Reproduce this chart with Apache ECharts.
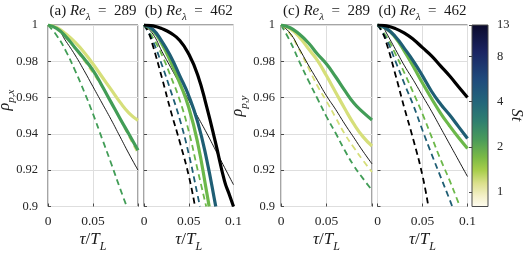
<!DOCTYPE html>
<html><head><meta charset="utf-8">
<script src="https://cdn.jsdelivr.net/npm/echarts@6/dist/echarts.min.js"></script>
<style>html,body{margin:0;padding:0;background:#fff}#c{width:532px;height:256px}</style>
</head><body><div id="c"></div>
<script>
// ---------- data ----------
const xTickVals = [0, 0.05, 0.1];
const xTickText = ['0', '0.05', '0.1'];
const yTickVals = [0.9, 0.92, 0.94, 0.96, 0.98, 1];
const yTickText = ['0.9', '0.92', '0.94', '0.96', '0.98', '1'];
const cbTickVals = [1, 2, 4, 8, 13];
const cbMin = 0.8, cbMax = 13;
const panelTitles = [['(a) ', '289'], ['(b) ', '462'], ['(c) ', '289'], ['(d) ', '462']];

// (a) Re=289, rho_p,x
const A_fluid = [[0,1],[0.01,0.9982],[0.02,0.991],[0.03,0.9835],[0.04,0.975],[0.05,0.966],[0.06,0.957],[0.07,0.948],[0.08,0.9385],[0.09,0.929],[0.1,0.92]];
const A_yellowDash = [[0,1],[0.01,0.9975],[0.02,0.993],[0.03,0.987],[0.04,0.9805],[0.05,0.9735],[0.06,0.966],[0.07,0.9575],[0.08,0.948],[0.09,0.9385],[0.1,0.929]];
const A_greenDash = [[0,1],[0.01,0.994],[0.02,0.9855],[0.03,0.975],[0.04,0.9635],[0.05,0.951],[0.06,0.9375],[0.07,0.924],[0.08,0.91],[0.0875,0.9]];
const A_yellow = [[0,1],[0.01,0.9985],[0.02,0.995],[0.03,0.9905],[0.04,0.985],[0.05,0.9785],[0.06,0.9715],[0.07,0.9645],[0.08,0.9575],[0.09,0.9515],[0.1,0.9475]];
const A_green = [[0,1],[0.01,0.998],[0.02,0.9935],[0.03,0.9875],[0.04,0.9815],[0.05,0.975],[0.06,0.9665],[0.07,0.9575],[0.08,0.9485],[0.09,0.9398],[0.1,0.931]];

// (b) Re=462, rho_p,x
const B_fluid = [[0,1],[0.01,0.995],[0.02,0.9855],[0.03,0.9765],[0.04,0.9675],[0.05,0.9585],[0.06,0.9495],[0.07,0.9405],[0.08,0.931],[0.09,0.9215],[0.1,0.912]];
const B_blackDash = [[0,1],[0.005,0.996],[0.01,0.9885],[0.02,0.971],[0.03,0.9525],[0.04,0.9355],[0.05,0.917],[0.057,0.9]];
const B_tealDash = [[0,1],[0.01,0.991],[0.02,0.978],[0.03,0.9635],[0.04,0.948],[0.05,0.929],[0.06,0.906],[0.0625,0.9]];
const B_limeDash = [[0,1],[0.01,0.993],[0.02,0.9835],[0.03,0.9715],[0.04,0.9585],[0.05,0.9415],[0.06,0.92],[0.0695,0.9]];
const B_lime = [[0,1],[0.01,0.997],[0.02,0.9895],[0.03,0.9795],[0.04,0.968],[0.05,0.9545],[0.06,0.935],[0.07,0.908],[0.0728,0.9]];
const B_teal = [[0,1],[0.01,0.9975],[0.02,0.991],[0.03,0.9825],[0.04,0.972],[0.05,0.961],[0.06,0.9465],[0.07,0.926],[0.08,0.9005],[0.0802,0.9]];
const B_black = [[0,1],[0.01,0.9995],[0.02,0.998],[0.03,0.9955],[0.04,0.9915],[0.05,0.984],[0.06,0.9725],[0.07,0.955],[0.08,0.935],[0.09,0.914],[0.095,0.907],[0.1,0.9]];

// (c) Re=289, rho_p,y
const C_fluid = [[0,1],[0.01,0.9955],[0.02,0.987],[0.03,0.978],[0.04,0.9695],[0.05,0.961],[0.06,0.9535],[0.07,0.9455],[0.08,0.938],[0.09,0.9305],[0.1,0.9235]];
const C_yellowDash = [[0,1],[0.01,0.995],[0.02,0.9865],[0.03,0.9765],[0.04,0.9665],[0.05,0.958],[0.06,0.949],[0.07,0.94],[0.08,0.9325],[0.09,0.9255],[0.1,0.919]];
const C_greenDash = [[0,1],[0.01,0.991],[0.02,0.98],[0.03,0.9695],[0.04,0.9595],[0.05,0.9495],[0.06,0.9405],[0.07,0.931],[0.08,0.9225],[0.09,0.9155],[0.1,0.909]];
const C_yellow = [[0,1],[0.01,0.998],[0.02,0.9935],[0.03,0.987],[0.04,0.9805],[0.05,0.972],[0.06,0.963],[0.07,0.954],[0.08,0.9455],[0.09,0.9385],[0.1,0.9333]];
const C_green = [[0,1],[0.01,0.9985],[0.02,0.995],[0.03,0.9902],[0.04,0.984],[0.05,0.9785],[0.06,0.9715],[0.07,0.964],[0.08,0.957],[0.09,0.952],[0.1,0.9477]];

// (d) Re=462, rho_p,y
const D_fluid = [[0,1],[0.005,0.9995],[0.01,0.9955],[0.02,0.9865],[0.03,0.9775],[0.04,0.9695],[0.05,0.961],[0.06,0.9525],[0.07,0.9435],[0.08,0.9345],[0.09,0.9255],[0.1,0.9165]];
const D_blackDash = [[0,1],[0.005,0.9965],[0.01,0.99],[0.02,0.9725],[0.03,0.954],[0.04,0.9365],[0.05,0.917],[0.0565,0.9]];
const D_tealDash = [[0,1],[0.01,0.992],[0.02,0.98],[0.03,0.9675],[0.04,0.9555],[0.05,0.942],[0.06,0.929],[0.07,0.9165],[0.08,0.904],[0.083,0.9]];
const D_limeDash = [[0,1],[0.01,0.9935],[0.02,0.984],[0.03,0.9735],[0.04,0.9625],[0.05,0.951],[0.06,0.9385],[0.07,0.926],[0.08,0.9145],[0.09,0.902],[0.0916,0.9]];
const D_lime = [[0,1],[0.01,0.998],[0.02,0.993],[0.03,0.9855],[0.04,0.977],[0.05,0.968],[0.06,0.9595],[0.07,0.9515],[0.08,0.9445],[0.09,0.938],[0.1,0.932]];
const D_teal = [[0,1],[0.01,0.998],[0.02,0.9935],[0.03,0.987],[0.04,0.98],[0.05,0.972],[0.06,0.9635],[0.07,0.9565],[0.08,0.9505],[0.09,0.944],[0.1,0.9375]];
const D_black = [[0,1],[0.01,0.9995],[0.02,0.998],[0.03,0.9955],[0.04,0.992],[0.05,0.9875],[0.06,0.983],[0.07,0.9775],[0.08,0.972],[0.09,0.966],[0.1,0.96]];

// ---------- styles ----------
const COL = {yellow:'#d6df7a', green:'#429d57', lime:'#6cb84a', teal:'#1f5e74', black:'#000000'};
const FONT = "'Liberation Serif','DejaVu Serif',serif";
const AX = '#4a4a4a';
const GRIDC = '#dedede';
const grids = [
  {left:48, top:25, width:90, height:181.5},
  {left:144, top:25, width:89.5, height:181.5},
  {left:281, top:25, width:91, height:181.5},
  {left:377.5, top:25, width:90, height:181.5}
];
const cbGrid = {left:472, top:25, width:16, height:181.5};

function fmtX(v){ for (let i=0;i<xTickVals.length;i++) if (Math.abs(v-xTickVals[i])<1e-9) return xTickText[i]; return ''; }
function fmtY(v){ for (let i=0;i<yTickVals.length;i++) if (Math.abs(v-yTickVals[i])<1e-9) return yTickText[i]; return ''; }

const panels = [
  {dashed:[[A_yellowDash,'yellow'],[A_greenDash,'green']], fluid:A_fluid, solid:[[A_yellow,'yellow'],[A_green,'green']], ylab:true, x01:false, labM:10},
  {dashed:[[B_limeDash,'lime'],[B_tealDash,'teal'],[B_blackDash,'black']], fluid:B_fluid, solid:[[B_lime,'lime'],[B_teal,'teal'],[B_black,'black']], ylab:false, x01:true},
  {dashed:[[C_yellowDash,'yellow'],[C_greenDash,'green']], fluid:C_fluid, solid:[[C_yellow,'yellow'],[C_green,'green']], ylab:true, x01:false, labM:6},
  {dashed:[[D_limeDash,'lime'],[D_tealDash,'teal'],[D_blackDash,'black']], fluid:D_fluid, solid:[[D_lime,'lime'],[D_teal,'teal'],[D_black,'black']], ylab:false, x01:true}
];

const gridOpt = [], xAxes = [], yAxes = [], series = [];
panels.forEach((p, i) => {
  gridOpt.push(Object.assign({show:true, borderColor:AX, borderWidth:1, backgroundColor:'#fff'}, grids[i]));
  xAxes.push({type:'value', gridIndex:i, min:0, max:0.1, interval:0.05,
    axisLine:{show:false}, axisTick:{show:true, inside:true, length:3, lineStyle:{color:AX}},
    splitLine:{show:true, lineStyle:{color:GRIDC, width:1}},
    axisLabel:{show:true, margin:8, fontFamily:FONT, fontSize:13.5, color:'#262626',
      formatter: v => (!p.x01 && Math.abs(v-0.1)<1e-9) ? '' : fmtX(v)}});
  yAxes.push({type:'value', gridIndex:i, min:0.9, max:1, interval:0.02,
    axisLine:{show:false}, axisTick:{show:true, inside:true, length:3, lineStyle:{color:AX}},
    splitLine:{show:true, lineStyle:{color:GRIDC, width:1}},
    axisLabel:{show:p.ylab, margin:p.labM||8, fontFamily:FONT, fontSize:12.5, color:'#262626', formatter: fmtY}});
  const base = {type:'line', xAxisIndex:i, yAxisIndex:i, showSymbol:false, symbol:'none', smooth:0.5, clip:true, silent:true, animation:false};
  p.dashed.forEach(([d,c]) => series.push(Object.assign({}, base, {data:d, lineStyle:{color:COL[c], width:1.8, type:[6,4]}})));
  series.push(Object.assign({}, base, {data:p.fluid, lineStyle:{color:'#000', width:0.9}}));
  p.solid.forEach(([d,c]) => series.push(Object.assign({}, base, {data:d, lineStyle:{color:COL[c], width:3.2}})));
});

// colorbar
const cbGrad = new echarts.graphic.LinearGradient(0,0,0,1,[
  {offset:0, color:'#0b0a2c'},{offset:0.15, color:'#1a2462'},{offset:0.3, color:'#1f4a7c'},
  {offset:0.43, color:'#23677a'},{offset:0.53, color:'#2f7f6f'},{offset:0.63, color:'#4a9b5a'},
  {offset:0.73, color:'#7cba45'},{offset:0.8, color:'#a8ce4c'},{offset:0.87, color:'#dbe08c'},
  {offset:0.94, color:'#f4f0c8'},{offset:1, color:'#fffdf2'}]);
gridOpt.push(Object.assign({show:true, borderColor:AX, borderWidth:1, backgroundColor:cbGrad}, cbGrid));
xAxes.push({type:'value', gridIndex:4, min:0, max:1, show:false});
yAxes.push({type:'value', gridIndex:4, position:'right', min:Math.log2(cbMin), max:Math.log2(cbMax),
  axisLine:{show:false}, splitLine:{show:false},
  axisTick:{show:true, inside:true, length:3, lineStyle:{color:AX}, customValues: cbTickVals.map(Math.log2)},
  axisLabel:{show:true, margin:9, fontFamily:FONT, fontSize:12.5, color:'#262626',
    customValues: cbTickVals.map(Math.log2), formatter: v => String(Math.round(Math.pow(2, v)))}});

// text
const rich = (fs) => ({
  n:{fontFamily:FONT, fontSize:fs, lineHeight:fs+4, verticalAlign:'top', fill:'#1a1a1a'},
  i:{fontFamily:FONT, fontSize:fs, fontStyle:'italic', lineHeight:fs+4, verticalAlign:'top', fill:'#1a1a1a'},
  s:{fontFamily:FONT, fontSize:Math.round(fs*0.7), fontStyle:'italic', lineHeight:Math.round(fs*0.7), verticalAlign:'bottom', fill:'#1a1a1a'},
  sn:{fontFamily:FONT, fontSize:Math.round(fs*0.7), lineHeight:Math.round(fs*0.7), verticalAlign:'bottom', fill:'#1a1a1a'}
});
const graphics = [];
panels.forEach((p, i) => {
  const g = grids[i];
  const cx = g.left + g.width/2;
  graphics.push({type:'text', x:cx, y:13, style:{text:'{n|'+panelTitles[i][0]+'}{i|Re}{s|λ}{n|  =  '+panelTitles[i][1]+'}', rich:rich(15), textAlign:'center', textVerticalAlign:'middle'}});
  graphics.push({type:'text', x:cx, y:242, style:{text:'{i|τ}{n|/}{i|T}{s|L}', rich:rich(17), textAlign:'center', textVerticalAlign:'middle'}});
});
graphics.push({type:'text', x:7, y:100, rotation:Math.PI/2, style:{text:'{i|ρ}{s|p}{sn|,}{s|x}', rich:rich(16), textAlign:'center', textVerticalAlign:'middle'}});
graphics.push({type:'text', x:240, y:106, rotation:Math.PI/2, style:{text:'{i|ρ}{s|p}{sn|,}{s|y}', rich:rich(16), textAlign:'center', textVerticalAlign:'middle'}});
graphics.push({type:'text', x:514, y:115, rotation:-Math.PI/2, style:{text:'{i|St}', rich:rich(16), textAlign:'center', textVerticalAlign:'middle'}});

const chart = echarts.init(document.getElementById('c'), null, {renderer:'canvas'});
chart.setOption({animation:false, grid:gridOpt, xAxis:xAxes, yAxis:yAxes, series:series, graphic:graphics});
</script></body></html>
